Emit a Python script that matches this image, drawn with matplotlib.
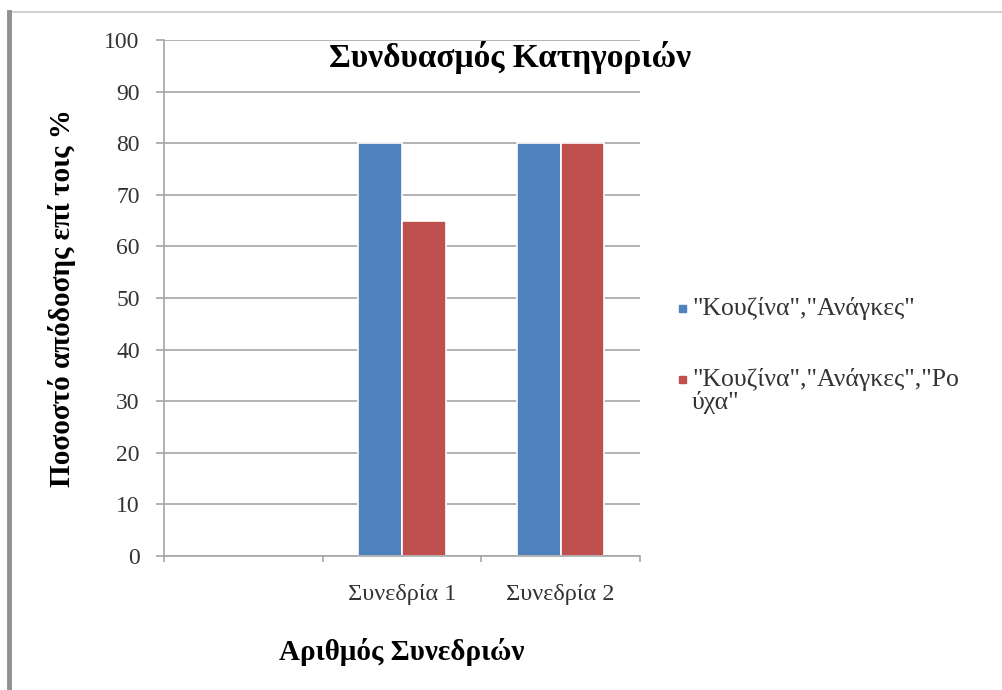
import matplotlib
matplotlib.use("Agg")
import matplotlib.pyplot as plt
from matplotlib.lines import Line2D
from matplotlib.patches import Rectangle
import numpy as np

plt.rcParams['font.family'] = ['Liberation Serif', 'DejaVu Serif']

# data
categories = ["", "Συνεδρία 1", "Συνεδρία 2"]
series_names = ['"Κουζίνα","Ανάγκες"', '"Κουζίνα","Ανάγκες","Ρο\nύχα"']
values_a = [np.nan, 80, 80]
values_b = [np.nan, 65, 80]
y_ticks = list(range(0, 101, 10))

colors = ["#4F81BD", "#C0504D"]
W, H = 1003, 690

fig = plt.figure(figsize=(10.03, 6.9), dpi=100, facecolor="white")
ax = fig.add_axes([164 / W, 1 - 556 / H, 476 / W, 516 / H])

x = np.arange(len(categories))
w = 0.275
ax.bar(x - w / 2, values_a, w, color=colors[0], edgecolor="white", linewidth=1.2)
ax.bar(x + w / 2, values_b, w, color=colors[1], edgecolor="white", linewidth=1.2)

ax.set_xlim(-0.5, len(categories) - 0.5)
ax.set_ylim(0, 100)
ax.set_yticks(y_ticks)
ax.yaxis.grid(True, color="#A6A6A6", linewidth=1.2)
ax.set_axisbelow(True)

for s in ["top", "right"]:
    ax.spines[s].set_visible(False)
for s in ["left", "bottom"]:
    ax.spines[s].set_color("#A6A6A6")
    ax.spines[s].set_linewidth(1.2)

ax.set_xticks(x)
ax.set_xticklabels(categories)
ax.set_xticks(np.arange(len(categories) + 1) - 0.5, minor=True)
ax.tick_params(axis="x", which="major", length=0, pad=20, labelsize=17.5)
ax.tick_params(axis="x", which="minor", length=4.5, color="#A6A6A6", width=1.2)
ax.tick_params(axis="y", length=6, color="#A6A6A6", width=1.2, labelsize=17, pad=11.5)
ax.tick_params(axis="both", labelcolor="#333333")

ax.set_ylabel("Ποσοστό απόδοσης επί τοις %", fontsize=21, fontweight="bold", va="center")
ax.yaxis.set_label_coords((62 - 164) / 476, 0.5)
ax.set_xlabel("Αριθμός Συνεδριών", fontsize=21, fontweight="bold", va="center")
ax.xaxis.set_label_coords(0.5, (556 - 652) / 516)

fig.text(510 / W, 1 - 57 / H, "Συνδυασμός Κατηγοριών", fontsize=24, fontweight="bold",
         ha="center", va="center")

# legend, drawn by hand so the marker sits on the first text line
legend_y = [308, 379]
for name, col, ly in zip(series_names, colors, legend_y):
    fig.add_artist(Rectangle((679 / W, 1 - (ly + 3.5) / H), 7 / W, 7 / H, color=col,
                             transform=fig.transFigure))
    fig.text(692 / W, 1 - (ly - 11) / H, name, fontsize=18.5, color="#333333", ha="left",
             va="top", linespacing=1.0)

# outer frame of the pasted chart
fig.add_artist(Line2D([8 / W, 1.0], [1 - 12 / H, 1 - 12 / H], color="#C8C8C8", linewidth=1.2))
fig.add_artist(Line2D([9 / W, 9 / W], [0, 1 - 12 / H], color="#909090", linewidth=3.5))

fig.savefig("out.png", dpi=100, facecolor="white")
